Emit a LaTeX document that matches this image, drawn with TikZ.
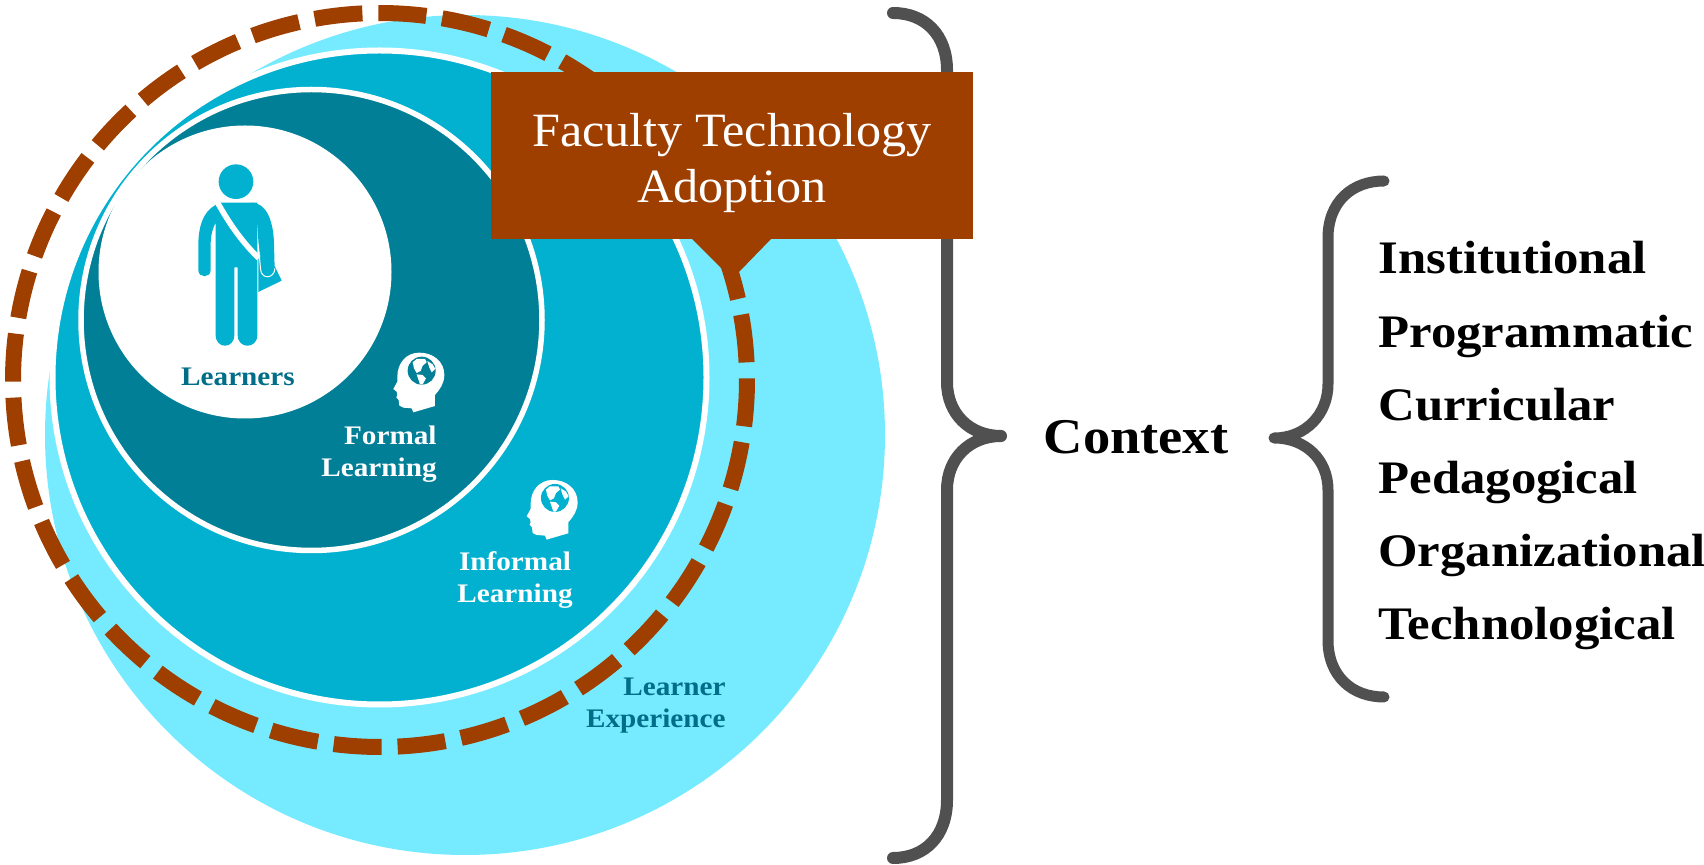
\documentclass[tikz,border=0pt]{standalone}
\usepackage{fontspec}
\usepackage{xcolor}
\usepackage{tikz}
\usetikzlibrary{positioning}
\setmainfont[FakeStretch=1.09]{Liberation Serif}
\newfontfamily\calloutfont[FakeStretch=1.05]{Liberation Serif}
\definecolor{skyfill}{HTML}{76EBFF}
\definecolor{midfill}{HTML}{02B1CF}
\definecolor{deepfill}{HTML}{007F97}
\definecolor{rustfill}{HTML}{9E3F00}
\definecolor{bracegray}{HTML}{505050}
\definecolor{tealtext}{HTML}{006E88}

\begin{document}
\begin{tikzpicture}[
  x=0.5pt, y=-0.5pt,
  ringdash/.style={draw=rustfill, line width=8pt},
  bracepath/.style={draw=bracegray, line cap=round, line join=round},
  circlelabel/.style={font=\fontsize{13.4}{16.2}\selectfont\bfseries, inner sep=0pt},
  listitem/.style={font=\fontsize{23.3}{27}\selectfont\bfseries, inner xsep=0pt,
                   inner ysep=7.6pt, text height=16pt, text depth=5pt},
  globehead/.pic={
    \begin{scope}[x=0.5pt/3, y=-0.5pt/3]
    \fill[white] (345,198) -- (345,165) .. controls (360,148) and (373,130) .. (373,105)
      .. controls (373,65) and (340,38) .. (298,38)
      .. controls (258,38) and (232,70) .. (232,110)
      -- (232,125) -- (220,147) -- (230,155) -- (232,165) -- (229,172) -- (236,180)
      -- (238,197) -- (250,203) -- (275,205) -- (280,217) -- cycle;
    \fill[pic actions] (305,92) circle[radius=42];
    \fill[white] (278,67) -- (290,57) -- (315,57) -- (320,67) -- (308,77) -- (302,93)
      -- (290,99) -- (282,85) -- cycle;
    \fill[white] (290,103) -- (308,105) -- (318,115) -- (308,133) -- (300,133) -- cycle;
    \fill[white] (322,63) -- (338,73) -- (346,87) -- (335,97) -- (328,83) -- cycle;
    \end{scope}
  },
]
  \useasboundingbox (0,0) rectangle (1704,865);

  \fill[skyfill] (465,435) circle[radius=420];
  \filldraw[fill=midfill, draw=white, line width=3pt] (379.5,377.5) circle[radius=327];
  \filldraw[fill=deepfill, draw=white, line width=2.75pt] (311.5,320) circle[radius=230.5];
  \fill[white] (245,272) circle[radius=146.5];

  \coordinate (ringc) at (380,380);
  \foreach \a in {0,10,...,350}
    \draw[ringdash] (ringc) ++({\a-0.25}:367) arc[start angle=\a-0.25, delta angle=7.5, radius=367];

  \begin{scope}[shift={(150,130)}, x=0.5pt/3, y=-0.5pt/3]
    \fill[midfill] (258,155) circle[radius=52];
    \fill[midfill] (325,385) -- (325,486) -- (395,452) -- (375,410) -- cycle;
    \fill[midfill] (195,226) .. controls (160,245) and (145,290) .. (145,345) -- (145,420)
      .. controls (145,445) and (182,445) .. (182,420) -- (182,345)
      .. controls (182,315) and (188,295) .. (197,278) -- (197,615)
      .. controls (197,658) and (253,658) .. (253,615) -- (253,412) -- (263,412) -- (263,615)
      .. controls (263,658) and (322,658) .. (322,615) -- (322,218) -- (213,218) -- cycle;
    \fill[midfill] (322,285) -- (326,345) -- (333,420)
      .. controls (335,448) and (372,448) .. (374,415) -- (372,340)
      .. controls (370,265) and (345,218) .. (305,218) -- (300,285) -- cycle;
    \draw[white, line width=0.5pt] (325,345) -- (332,420)
      .. controls (335,448) and (372,448) .. (375,415);
    \draw[white, line width=2.8pt] (204,220) .. controls (240,285) and (280,340) .. (326,384);
  \end{scope}

  \path (320,340) pic[fill=deepfill] {globehead};
  \path (453.3,467.3) pic[fill=midfill] {globehead};

  \node[circlelabel, text=tealtext] (learners) at (238,377) {Learners};
  \node[circlelabel, text=white, align=right, anchor=east] (formal) at (437,454) {Formal\\Learning};
  \node[circlelabel, text=white, align=center] (informal) at (515,580) {Informal\\Learning};
  \node[circlelabel, text=tealtext, align=right, anchor=east] (experience) at (726,705.5) {Learner\\Experience};

  \fill[rustfill] (692,239) -- (721,268) -- (739,272) -- (771,239) -- cycle;
  \draw[bracepath, line width=6pt] (893,13) .. controls (925,13) and (947,35) .. (947,70)
    -- (947,382) .. controls (947,414) and (970,436) .. (1001,436)
    .. controls (970,436) and (947,458) .. (947,490)
    -- (947,800) .. controls (947,836) and (925,858) .. (893,858);
  \node[fill=rustfill, minimum width=241pt, minimum height=83.5pt, inner sep=0pt] (calloutbox) at (732,155.5) {};
  \node[text=white, inner sep=0pt, align=center, font=\calloutfont\fontsize{23.9}{28}\selectfont] (callouttext)
    at (732,163.5) {Faculty Technology\\Adoption};

  \node[font=\fontsize{25}{30}\selectfont\bfseries, inner sep=0pt] (context) at (1136,437) {Context};

  \draw[bracepath, line width=5.5pt] (1384,181) .. controls (1352,181) and (1328,202) .. (1328,238)
    -- (1328,384) .. controls (1328,414) and (1306,438) .. (1274,438)
    .. controls (1306,438) and (1328,460) .. (1328,490)
    -- (1328,640) .. controls (1328,676) and (1352,697) .. (1384,697);

  \node[listitem, anchor=base west] (inst) at (1378,274) {Institutional};
  \node[listitem, below=0pt of inst.south west, anchor=north west] (prog) {Programmatic};
  \node[listitem, below=0pt of prog.south west, anchor=north west] (curr) {Curricular};
  \node[listitem, below=0pt of curr.south west, anchor=north west] (peda) {Pedagogical};
  \node[listitem, below=0pt of peda.south west, anchor=north west] (orga) {Organizational};
  \node[listitem, below=0pt of orga.south west, anchor=north west] (tech) {Technological};
\end{tikzpicture}
\end{document}
